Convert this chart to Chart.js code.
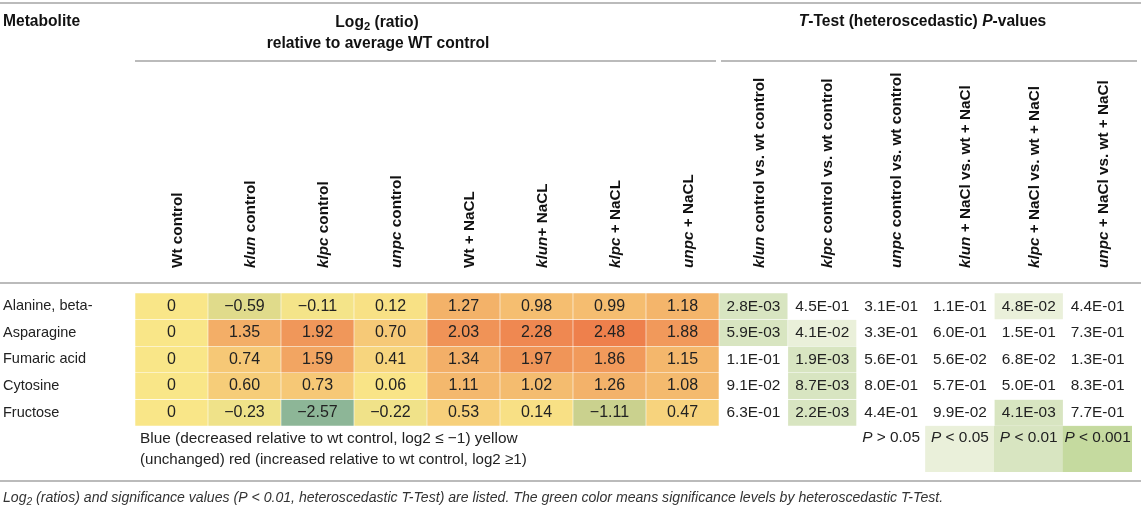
<!DOCTYPE html>
<html>
<head>
<meta charset="utf-8">
<script src="https://cdn.jsdelivr.net/npm/chart.js@4.4.0/dist/chart.umd.min.js"></script>
<style>
  html, body { margin: 0; padding: 0; background: #fff; }
  #wrap { position: relative; width: 1143px; height: 508px; }
  #wrap canvas { position: absolute; left: 0; top: 0; }
</style>
</head>
<body>
<div id="wrap">
  <canvas id="ratioChart" width="1143" height="508"></canvas>
  <canvas id="pChart" width="1143" height="508"></canvas>
</div>
<script>
const metabolites = ['Alanine, beta-', 'Asparagine', 'Fumaric acid', 'Cytosine', 'Fructose'];

// *word* = italic part of a label
const ratioLabels = ['Wt control', '*klun* control', '*klpc* control', '*unpc* control',
  'Wt + NaCL', '*klun*+ NaCL', '*klpc* + NaCL', '*unpc* + NaCL'];
const pLabels = ['*klun* control vs. wt control', '*klpc* control vs. wt control',
  '*unpc* control vs. wt control', '*klun* + NaCl vs. wt + NaCl',
  '*klpc* + NaCl vs. wt + NaCl', '*unpc* + NaCl vs. wt + NaCl'];

// log2 (ratio) relative to average WT control
const log2Alanine    = [0, -0.59, -0.11, 0.12, 1.27, 0.98, 0.99, 1.18];
const log2Asparagine = [0, 1.35, 1.92, 0.70, 2.03, 2.28, 2.48, 1.88];
const log2Fumaric    = [0, 0.74, 1.59, 0.41, 1.34, 1.97, 1.86, 1.15];
const log2Cytosine   = [0, 0.60, 0.73, 0.06, 1.11, 1.02, 1.26, 1.08];
const log2Fructose   = [0, -0.23, -2.57, -0.22, 0.53, 0.14, -1.11, 0.47];

// T-test p-values
const pAlanine    = [2.8e-3, 4.5e-1, 3.1e-1, 1.1e-1, 4.8e-2, 4.4e-1];
const pAsparagine = [5.9e-3, 4.1e-2, 3.3e-1, 6.0e-1, 1.5e-1, 7.3e-1];
const pFumaric    = [1.1e-1, 1.9e-3, 5.6e-1, 5.6e-2, 6.8e-2, 1.3e-1];
const pCytosine   = [9.1e-2, 8.7e-3, 8.0e-1, 5.7e-1, 5.0e-1, 8.3e-1];
const pFructose   = [6.3e-1, 2.2e-3, 4.4e-1, 9.9e-2, 4.1e-3, 7.7e-1];

// significance legend
const pLegendText = ['> 0.05', '< 0.05', '< 0.01', '< 0.001'];
const pCutoffs = [0.05, 0.01, 0.001];

const log2Rows = [log2Alanine, log2Asparagine, log2Fumaric, log2Cytosine, log2Fructose];
const pRows = [pAlanine, pAsparagine, pFumaric, pCytosine, pFructose];

// ---- look ----
const FAM = '"Liberation Sans", Arial, Helvetica, sans-serif';
const HEAD = 15.6, ROT = 15.3, BODY = 15.4, LABEL = 14.5;
const LEGEND_SPAN = 1.73;              // legend row height, in data rows
const Y_MAX = metabolites.length + LEGEND_SPAN;
const SIG_COLORS = ['rgba(255,255,255,0)', '#eaf0da', '#d8e5c1', '#c5da9f'];
const C_MID = [249, 230, 136], C_HIGH = [238, 128, 76], C_LOW = [141, 182, 151];
const allLog2 = log2Rows.flat();
const LOW_END = Math.min(...allLog2), HIGH_END = Math.max(...allLog2);

function ratioColor(v) {
  const t = v < 0 ? v / LOW_END : v / HIGH_END;
  const end = v < 0 ? C_LOW : C_HIGH;
  const c = C_MID.map((m, k) => Math.round(m + (end[k] - m) * Math.min(1, t)));
  return 'rgb(' + c.join(',') + ')';
}
function sigLevel(p) {
  return pCutoffs.filter(c => p < c).length;
}
function fmtRatio(v) {
  if (v === 0) return '0';
  const s = Math.abs(v).toFixed(2);
  return v < 0 ? '\u2212' + s : s;
}
function fmtP(p) {
  const parts = p.toExponential(1).split('e');
  const e = parseInt(parts[1], 10);
  return parts[0] + 'E' + (e < 0 ? '-' : '+') + String(Math.abs(e)).padStart(2, '0');
}

// ---- text helpers ----
function font(size, bold, italic) {
  return (italic ? 'italic ' : '') + (bold ? 'bold ' : '') + size + 'px ' + FAM;
}
function split(str) {
  return str.split('*').map((t, k) => ({ t: t, i: k % 2 === 1 })).filter(s => s.t);
}
// parts: [{t, i (italic), sub}]
function drawRich(ctx, parts, x, y, size, bold, align) {
  let w = 0;
  parts.forEach(p => {
    ctx.font = font(p.sub ? size * 0.72 : size, bold, p.i);
    p.w = ctx.measureText(p.t).width;
    w += p.w;
  });
  let cx = align === 'center' ? x - w / 2 : align === 'right' ? x - w : x;
  ctx.textAlign = 'left';
  parts.forEach(p => {
    ctx.font = font(p.sub ? size * 0.72 : size, bold, p.i);
    ctx.fillText(p.t, cx, p.sub ? y + size * 0.28 : y);
    cx += p.w;
  });
}
function hline(ctx, x1, x2, y) {
  ctx.beginPath(); ctx.moveTo(x1, y); ctx.lineTo(x2, y); ctx.stroke();
}
function rotatedLabels(ctx, scale, labels, bottom) {
  labels.forEach((lab, i) => {
    ctx.save();
    ctx.translate(scale.getPixelForValue(i) + 6, bottom);
    ctx.rotate(-Math.PI / 2);
    ctx.textBaseline = 'middle';
    drawRich(ctx, split(lab), 0, 0, ROT, true, 'left');
    ctx.restore();
  });
}

const cellStyle = {
  grouped: false, categoryPercentage: 1, barPercentage: 1,
  borderSkipped: false, borderWidth: 0.6, borderColor: 'rgba(255,255,255,0.45)'
};
function yScale() {
  return { type: 'linear', display: false, min: 0, max: Y_MAX, reverse: true };
}

// ---- log2 heat map ----
const ratioText = {
  id: 'ratioText',
  afterDatasetsDraw(chart) {
    const { ctx, chartArea: a, scales: { x, y } } = chart;
    ctx.save();
    ctx.strokeStyle = '#bbbbbb';
    ctx.lineWidth = 2;
    hline(ctx, 0, 1141, 3);
    hline(ctx, a.left, a.right - 3, 61);
    hline(ctx, 0, 1141, a.top - 10);
    hline(ctx, 0, 1141, 481);

    ctx.fillStyle = '#111';
    ctx.textBaseline = 'middle';
    drawRich(ctx, [{ t: 'Metabolite' }], 3, 22, HEAD, true, 'left');
    drawRich(ctx, [{ t: 'Log' }, { t: '2', sub: true }, { t: ' (ratio)' }], a.left + 242, 23, HEAD, true, 'center');
    drawRich(ctx, [{ t: 'relative to average WT control' }], a.left + 243, 44, HEAD, true, 'center');
    rotatedLabels(ctx, x, ratioLabels, a.top - 25);

    ctx.fillStyle = '#222';
    metabolites.forEach((m, r) => {
      drawRich(ctx, [{ t: m }], 3, y.getPixelForValue(r + 0.5), LABEL, false, 'left');
    });
    chart.data.datasets.forEach((ds, r) => {
      chart.getDatasetMeta(r).data.forEach((bar, c) => {
        drawRich(ctx, [{ t: fmtRatio(log2Rows[r][c]) }], bar.x, (bar.y + bar.base) / 2, 16, false, 'center');
      });
    });

    const ly = y.getPixelForValue(metabolites.length);
    drawRich(ctx, [{ t: 'Blue (decreased relative to wt control, log2 \u2264 \u22121) yellow' }], a.left + 5, ly + 13, BODY, false, 'left');
    drawRich(ctx, [{ t: '(unchanged) red (increased relative to wt control, log2 \u22651)' }], a.left + 5, ly + 34, 15.1, false, 'left');

    ctx.fillStyle = '#333';
    drawRich(ctx, [
      { t: 'Log', i: true }, { t: '2', i: true, sub: true },
      { t: ' (ratios) and significance values (P < 0.01, heteroscedastic T-Test) are listed. The green color means significance levels by heteroscedastic T-Test.', i: true }
    ], 3, 498, 14.1, false, 'left');
    ctx.restore();
  }
};

new Chart(document.getElementById('ratioChart'), {
  type: 'bar',
  data: {
    labels: ratioLabels,
    datasets: log2Rows.map((vals, r) => Object.assign({
      label: metabolites[r],
      data: vals.map(() => [r, r + 1]),
      backgroundColor: vals.map(ratioColor)
    }, cellStyle))
  },
  options: {
    responsive: false,
    animation: false,
    layout: { padding: { left: 135, right: 424, top: 293, bottom: 36 } },
    plugins: { legend: { display: false }, tooltip: { enabled: false } },
    scales: { x: { display: false }, y: yScale() }
  },
  plugins: [ratioText]
});

// ---- p-value table ----
const legendStart = pLabels.length - pLegendText.length;
const pText = {
  id: 'pText',
  afterDatasetsDraw(chart) {
    const { ctx, chartArea: a, scales: { x, y } } = chart;
    ctx.save();
    ctx.strokeStyle = '#bbbbbb';
    ctx.lineWidth = 2;
    hline(ctx, a.left + 2, a.right + 5, 61);

    ctx.fillStyle = '#111';
    ctx.textBaseline = 'middle';
    drawRich(ctx, [{ t: 'T', i: true }, { t: '-Test (heteroscedastic) ' }, { t: 'P', i: true }, { t: '-values' }],
      (a.left + a.right) / 2 - 3, 22, HEAD, true, 'center');
    rotatedLabels(ctx, x, pLabels, a.top - 25);

    ctx.fillStyle = '#222';
    pRows.forEach((vals, r) => {
      chart.getDatasetMeta(r).data.forEach((bar, c) => {
        drawRich(ctx, [{ t: fmtP(vals[c]) }], bar.x, (bar.y + bar.base) / 2, BODY, false, 'center');
      });
    });
    const ly = y.getPixelForValue(metabolites.length) + 12;
    pLegendText.forEach((t, k) => {
      drawRich(ctx, [{ t: 'P', i: true }, { t: ' ' + t }], x.getPixelForValue(legendStart + k), ly, BODY, false, 'center');
    });
    ctx.restore();
  }
};

const pDatasets = pRows.map((vals, r) => Object.assign({
  label: metabolites[r],
  data: vals.map(() => [r, r + 1]),
  backgroundColor: vals.map(p => SIG_COLORS[sigLevel(p)])
}, cellStyle));
pDatasets.push(Object.assign({
  label: 'legend',
  data: pLabels.map((l, c) => c >= legendStart ? [metabolites.length, Y_MAX] : null),
  backgroundColor: pLabels.map((l, c) => c >= legendStart ? SIG_COLORS[c - legendStart] : 'rgba(0,0,0,0)')
}, cellStyle, { borderWidth: 0 }));

new Chart(document.getElementById('pChart'), {
  type: 'bar',
  data: { labels: pLabels, datasets: pDatasets },
  options: {
    responsive: false,
    animation: false,
    layout: { padding: { left: 719, right: 11, top: 293, bottom: 36 } },
    plugins: { legend: { display: false }, tooltip: { enabled: false } },
    scales: { x: { display: false }, y: yScale() }
  },
  plugins: [pText]
});
</script>
</body>
</html>
